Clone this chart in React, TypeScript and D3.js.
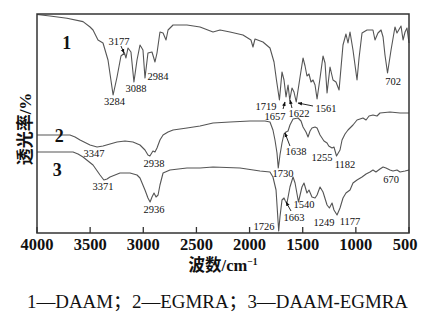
import React from "react";
import * as d3 from "d3";

// wavenumber (cm-1) and transmittance (arb.) for each spectrum
const wn1 = [4000,3878,3718,3567,3501,3473,3426,3379,3332,3284,3247,3210,3177,3163,3144,3116,3088,3059,3031,3003,2984,2956,2918,2890,2871,2843,2814,2786,2767,2720,2589,2466,2344,2278,2184,2062,1987,1968,1949,1874,1808,1770,1747,1719,1695,1676,1657,1638,1622,1601,1582,1561,1525,1497,1478,1460,1441,1422,1403,1384,1365,1337,1309,1290,1271,1243,1215,1187,1158,1121,1093,1074,1055,1027,989,970,942,895,839,820,792,763,744,726,702,669,632,613,575,556,537,519,500];
const t1 = [109.25,108.5,107.4,105.7,103,101.5,96.5,95,86.5,69,78,88.5,90,87.5,92.5,90.5,75.5,86.5,94,91.5,77.5,90,90.5,85.5,90,100.5,100,96.5,101.5,104,104,103,100.5,101.5,100.5,99,96.5,93,97,95.5,92.5,85.5,76.5,66.5,80.5,76.5,68,74,66.5,72.5,70.5,65.5,78,87.5,83.5,78.5,79.5,75.5,76.5,74,67,77.5,88.5,85,70,83,76.5,75.5,71.5,94,99.5,95,100.5,91.5,76.5,87.5,100,101.5,101.5,96.5,100,101.5,98,89,80,91.5,103,100,103.5,96.5,100.5,102.5,95];

const wn2 = [4000,3690,3642,3595,3501,3435,3379,3313,3247,3172,3097,3031,2984,2956,2938,2909,2890,2871,2843,2814,2767,2720,2589,2466,2344,2184,1996,1855,1808,1780,1761,1742,1730,1714,1695,1676,1657,1638,1620,1591,1544,1516,1497,1469,1450,1431,1413,1384,1365,1337,1300,1271,1255,1224,1206,1182,1149,1130,1102,1074,1027,989,933,904,876,839,801,773,679,584,500];
const t2 = [49,49,48,46.5,44,43,43.5,44.5,45.5,46,45.5,44,41.5,39,38.5,41,40.5,42.5,46.5,49,50.5,51.5,52.5,53.5,55,55.5,56,56,55.5,51.5,46.5,40,32.5,39,45,49.5,50.5,51,54,57,57.5,56,53,50.5,48,51,52.5,53,52.5,49,46,45,43.5,42.5,43,38.5,41.5,46.5,49.5,51.5,54,56.5,57.5,56.5,58.5,59,58.5,60,60.5,60,60];

const wn3 = [4000,3661,3614,3567,3473,3407,3371,3341,3313,3219,3125,3059,3031,2984,2956,2936,2918,2899,2880,2861,2843,2814,2749,2589,2466,2344,2090,1902,1808,1780,1751,1726,1714,1695,1676,1663,1648,1620,1591,1572,1540,1507,1488,1460,1441,1413,1384,1365,1337,1309,1271,1249,1224,1206,1177,1149,1121,1093,1055,1027,989,942,904,867,839,811,773,744,717,679,650,613,584,537,500];
const t3 = [40.5,40.5,39.5,38,34,29,26.5,27,28,30,30,29,27.5,21.5,17.5,15.5,18,20,18,19,24,30,31.5,32.5,32.5,33,32.5,31,30.5,28,21.5,1,8,16.5,17.5,16,15,23,28,25,15.5,23,25,20,21.5,18,17.5,19,23,20.5,14,12.5,15,11.5,9,12.5,17.5,20,21.5,25,26.5,28,29.5,30.5,31.5,30.5,32,33,32.5,31.5,31,31.5,30.5,31,31.5];

const xTicks = [4000, 3500, 3000, 2500, 2000, 1500, 1000, 500];

// peak labels: text, label centre (wavenumber, transmittance)
const peakText = ["3177","3284","3088","2984","1719","1657","1622","1561","702","3347","2938","3371","2936","1638","1255","1182","1730","1540","1663","1249","1177","1726","670"];
const peakWn = [3228,3271,3068,2862,1845,1761,1535,1281,650,3464,2899,3379,2899,1563,1318,1102,1685,1488,1582,1300,1055,1864,669];
const peakT = [96,66,72.5,78.5,63.5,58.5,60,62.5,76,40,35,23.5,12,41,38,34.5,30,14.5,8,5.5,6,3.5,27];

// arrows: from (wn,T) to (wn,T)
const arrowFromWn = [3210,1685,1601,1403,1620,1610];
const arrowFromT = [93.5,62,62.5,63.5,43.5,11];
const arrowToWn = [3181,1667,1620,1544,1667,1657];
const arrowToT = [90,65.5,66.5,65,50,15.5];

const curveNames = ["1", "2", "3"];
const curveNameWn = [3720, 3790, 3810];
const curveNameT = [95, 48.5, 31.5];

const W = 425, H = 320;
const L = 37, R = 409, T = 14, B = 233;

export default function App() {
  const x = d3.scaleLinear().domain([4000, 500]).range([L, R]);
  const y = d3.scaleLinear().domain([0, 109.5]).range([B, T]);
  const line = d3.line<[number, number]>().x(d => x(d[0])).y(d => y(d[1]));
  const series = [
    wn1.map((w, i) => [w, t1[i]] as [number, number]),
    wn2.map((w, i) => [w, t2[i]] as [number, number]),
    wn3.map((w, i) => [w, t3[i]] as [number, number]),
  ];
  const serif = "'Liberation Serif', 'DejaVu Serif', serif";
  const cjk = "'Liberation Serif', 'Noto Sans CJK SC', serif";
  return (
    <svg width={W} height={H} viewBox={`0 0 ${W} ${H}`} style={{ position: "absolute", left: 0, top: 0, background: "#fff" }}>
      <defs>
        <marker id="ah" viewBox="0 0 10 10" refX="9" refY="5" markerWidth="5" markerHeight="5" orient="auto">
          <path d="M0,1 L10,5 L0,9 z" fill="#111" />
        </marker>
      </defs>
      <rect x={0} y={0} width={W} height={H} fill="#fff" />
      {series.map((s, i) => (
        <path key={i} d={line(s) || ""} fill="none" stroke="#555" strokeWidth={1.1} strokeLinejoin="round" />
      ))}
      <rect x={L} y={T} width={R - L} height={B - T} fill="none" stroke="#333" strokeWidth={1.5} />
      {xTicks.map((v, i) => (
        <g key={v}>
          <line x1={x(v)} x2={x(v)} y1={B} y2={B - 6} stroke="#333" strokeWidth={1.3} />
          <text x={x(v) + (i === xTicks.length - 1 ? -4 : 0)} y={250} textAnchor="middle" fontFamily={serif} fontWeight="bold" fontSize={16.5} fill="#111">{v}</text>
        </g>
      ))}
      {peakText.map((s, i) => (
        <text key={s + i} x={x(peakWn[i])} y={y(peakT[i])} dy="0.35em" textAnchor="middle" fontFamily={serif} fontSize={10.5} fill="#111">{s}</text>
      ))}
      {arrowFromWn.map((w, i) => (
        <line key={i} x1={x(w)} y1={y(arrowFromT[i])} x2={x(arrowToWn[i])} y2={y(arrowToT[i])} stroke="#111" strokeWidth={0.9} markerEnd="url(#ah)" />
      ))}
      {curveNames.map((n, i) => (
        <text key={n} x={x(curveNameWn[i])} y={y(curveNameT[i])} dy="0.35em" textAnchor="middle" fontFamily={serif} fontWeight="bold" fontSize={18} fill="#111">{n}</text>
      ))}
      <text x={223} y={271} textAnchor="middle" fontFamily={cjk} fontWeight="bold" fontSize={16.5} fill="#111">
        波数/cm<tspan dy={-6} fontSize={9.5}>−1</tspan>
      </text>
      <text transform={`translate(30.5,129) rotate(-90)`} textAnchor="middle" fontFamily={cjk} fontWeight="bold" fontSize={17} fill="#111">透光率/%</text>
      <text x={27} y={308} textLength={381} lengthAdjust="spacingAndGlyphs" fontFamily={cjk} fontSize={18.5} fill="#111">1—DAAM；2—EGMRA；3—DAAM-EGMRA</text>
    </svg>
  );
}
